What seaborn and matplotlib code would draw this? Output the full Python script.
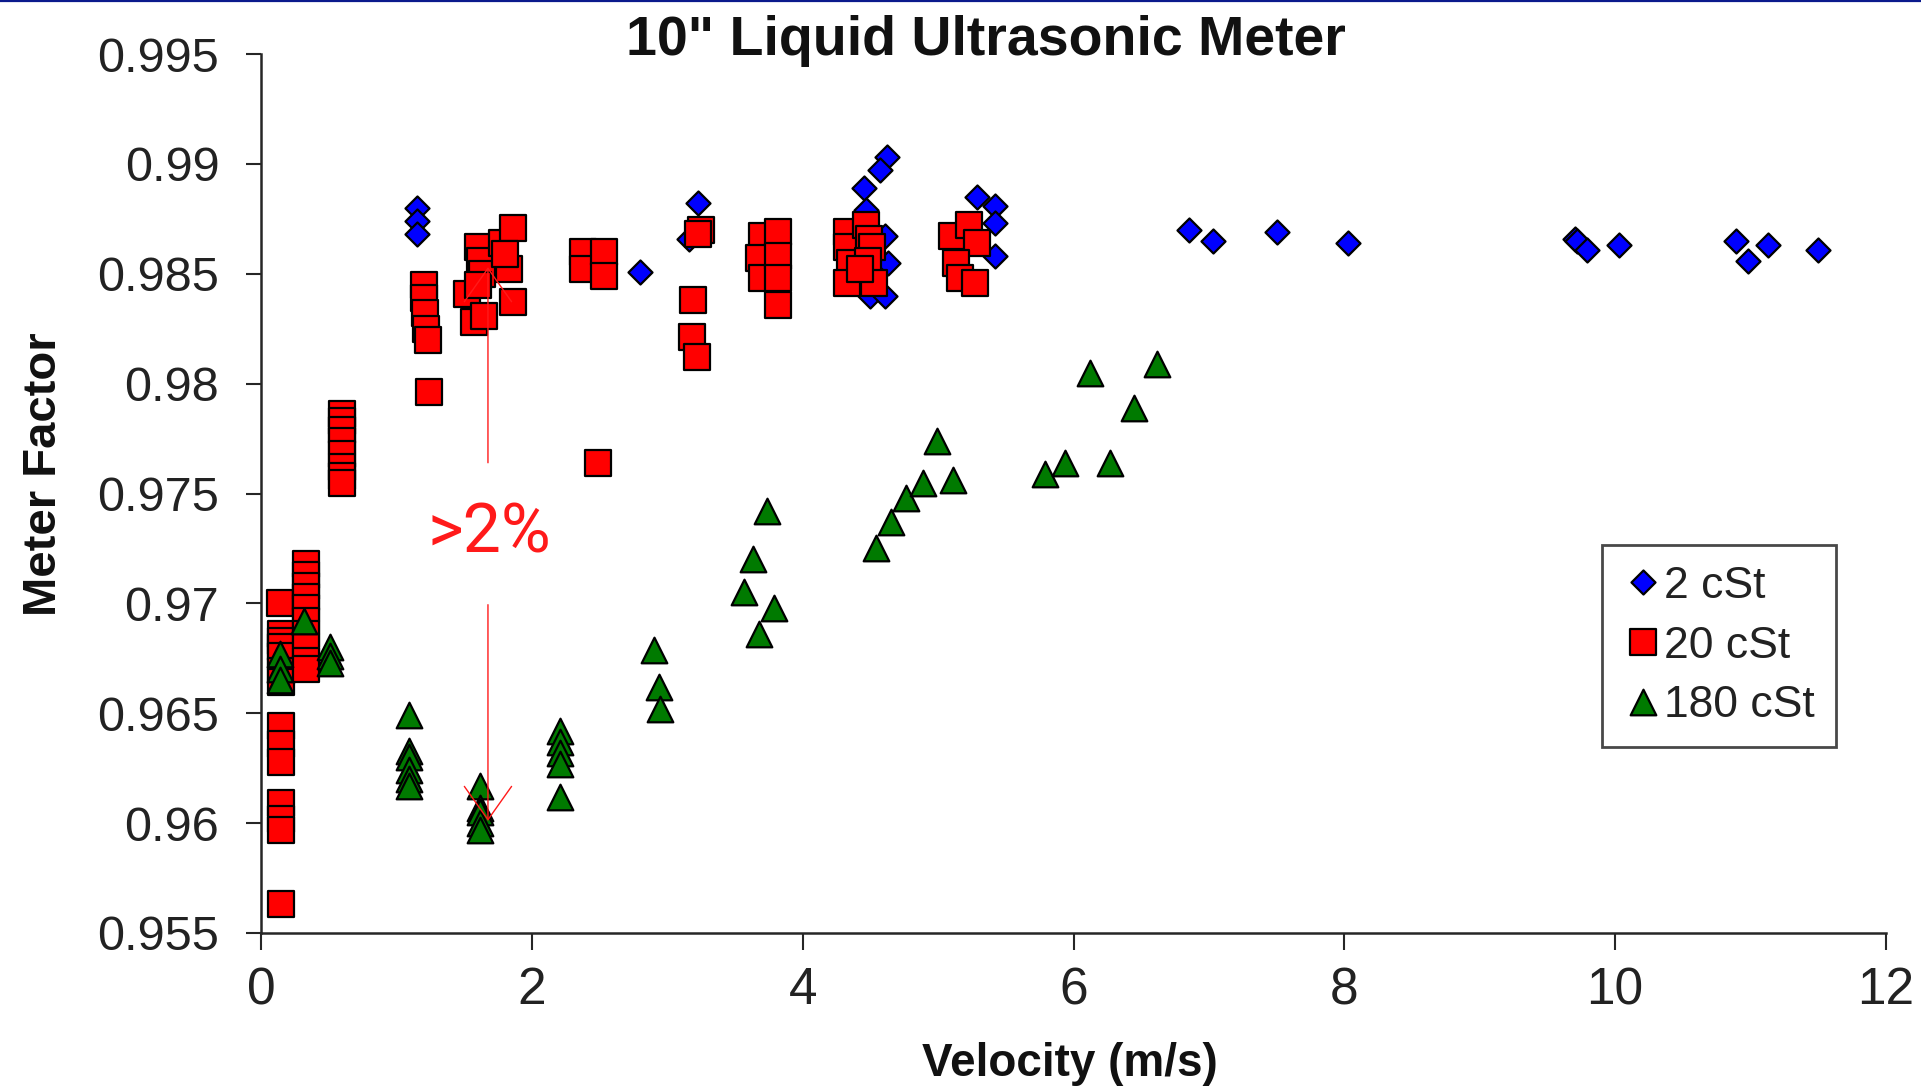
import numpy as np
import pandas as pd
import matplotlib
matplotlib.use("Agg")
import matplotlib.pyplot as plt
from matplotlib.lines import Line2D
import seaborn as sns

# ---- data: velocity (m/s) and meter factor for each oil viscosity ----
vel_2cst = [1.15, 1.15, 1.15, 2.80, 3.23, 3.16, 4.62, 4.57, 4.45, 4.47,
            4.61, 4.63, 4.50, 4.61, 5.29, 5.42, 5.42, 5.42, 6.85, 7.03,
            7.50, 8.03, 9.70, 9.72, 9.79, 10.03, 10.89, 10.98, 11.13, 11.50]
mf_2cst = [0.9880, 0.9874, 0.9868, 0.9851, 0.9882, 0.9866, 0.9903, 0.9897, 0.9889, 0.9879,
           0.9867, 0.9855, 0.9840, 0.9840, 0.9885, 0.9881, 0.9873, 0.9858, 0.9870, 0.9865,
           0.9869, 0.9864, 0.9866, 0.9865, 0.9861, 0.9863, 0.9865, 0.9856, 0.9863, 0.9861]

vel_20cst = [0.14, 0.15, 0.15, 0.15, 0.15, 0.15, 0.15, 0.15, 0.15, 0.15, 0.15, 0.15, 0.15, 0.15,
             0.33, 0.33, 0.33, 0.33, 0.33, 0.33, 0.33, 0.33, 0.33, 0.33,
             0.60, 0.60, 0.60, 0.60, 0.60, 0.60, 0.60, 0.60,
             1.20, 1.20, 1.21, 1.22, 1.23, 1.24,
             1.52, 1.57, 1.60, 1.62, 1.63, 1.65, 1.60, 1.78, 1.86, 1.83, 1.86, 1.80,
             2.38, 2.38, 2.53, 2.53, 2.49,
             3.25, 3.23, 3.19, 3.18, 3.22,
             3.70, 3.68, 3.70, 3.82, 3.82, 3.82, 3.82,
             4.33, 4.33, 4.35, 4.33, 4.47, 4.49, 4.51, 4.48, 4.53, 4.42,
             5.10, 5.23, 5.29, 5.13, 5.16, 5.27]
mf_20cst = [0.9700, 0.9686, 0.9683, 0.9680, 0.9676, 0.9669, 0.9664, 0.9644, 0.9636, 0.9628, 0.9609, 0.9602, 0.9597, 0.9563,
            0.9718, 0.9713, 0.9708, 0.9703, 0.9698, 0.9692, 0.9686, 0.9680, 0.9674, 0.9670,
            0.9786, 0.9783, 0.9779, 0.9774, 0.9768, 0.9762, 0.9758, 0.9755,
            0.9845, 0.9839, 0.9832, 0.9825, 0.9820, 0.9796,
            0.9841, 0.9828, 0.9862, 0.9856, 0.9850, 0.9831, 0.9845, 0.9864, 0.9871, 0.9852, 0.9837, 0.9859,
            0.9860, 0.9852, 0.9860, 0.9849, 0.9764,
            0.9870, 0.9868, 0.9838, 0.9821, 0.9812,
            0.9867, 0.9857, 0.9848, 0.9869, 0.9858, 0.9848, 0.9836,
            0.9869, 0.9862, 0.9855, 0.9846, 0.9872, 0.9866, 0.9862, 0.9856, 0.9846, 0.9852,
            0.9867, 0.9872, 0.9864, 0.9855, 0.9848, 0.9846]

vel_180cst = [0.14, 0.14, 0.14, 0.32, 0.51, 0.51, 0.51,
              1.09, 1.09, 1.09, 1.09, 1.09, 1.09,
              1.62, 1.62, 1.62, 1.62, 1.62,
              2.21, 2.21, 2.21, 2.21, 2.21,
              2.90, 2.94, 2.95,
              3.74, 3.63, 3.57, 3.79, 3.68,
              4.54, 4.65, 4.76, 4.89, 5.11, 4.99,
              5.79, 5.94, 6.27, 6.12, 6.45, 6.62]
mf_180cst = [0.9677, 0.9670, 0.9665, 0.9692, 0.9680, 0.9676, 0.9673,
             0.9649, 0.9633, 0.9630, 0.9624, 0.9620, 0.9617,
             0.9617, 0.9607, 0.9605, 0.9600, 0.9597,
             0.9642, 0.9637, 0.9632, 0.9627, 0.9612,
             0.9679, 0.9662, 0.9652,
             0.9742, 0.9720, 0.9705, 0.9698, 0.9686,
             0.9725, 0.9737, 0.9748, 0.9755, 0.9756, 0.9774,
             0.9759, 0.9764, 0.9764, 0.9805, 0.9789, 0.9809]

series_names = ["2 cSt", "20 cSt", "180 cSt"]
x_ticks = [0, 2, 4, 6, 8, 10, 12]
y_ticks = [0.955, 0.96, 0.965, 0.97, 0.975, 0.98, 0.985, 0.99, 0.995]
y_tick_labels = ["0.955", "0.96", "0.965", "0.97", "0.975", "0.98", "0.985", "0.99", "0.995"]

# spread band annotation (velocity, upper MF, lower MF)
band_x = 1.676
band_top = 0.9853
band_bottom = 0.9601

df = pd.concat([
    pd.DataFrame({"Velocity": vel_2cst, "MF": mf_2cst, "Fluid": series_names[0]}),
    pd.DataFrame({"Velocity": vel_20cst, "MF": mf_20cst, "Fluid": series_names[1]}),
    pd.DataFrame({"Velocity": vel_180cst, "MF": mf_180cst, "Fluid": series_names[2]}),
], ignore_index=True)

styles = {
    "2 cSt": dict(marker="D", color="#0000ff", s=150),
    "20 cSt": dict(marker="s", color="#ff0000", s=340),
    "180 cSt": dict(marker="^", color="#007a00", s=340),
}

sns.set_style("white")
plt.rcParams["font.family"] = ["Liberation Sans", "DejaVu Sans"]

fig = plt.figure(figsize=(19.21, 10.88), dpi=100)
ax = fig.add_axes([261 / 1921, 1 - 933 / 1088, (1886 - 261) / 1921, (933 - 54) / 1088])

for name in series_names:
    st = styles[name]
    sns.scatterplot(data=df[df["Fluid"] == name], x="Velocity", y="MF",
                    marker=st["marker"], color=st["color"], s=st["s"],
                    edgecolor="black", linewidth=1.6, label=name, ax=ax,
                    zorder=3)

ax.set_xlim(0, 12)
ax.set_ylim(0.955, 0.995)
ax.set_xticks(x_ticks)
ax.set_xticklabels([str(t) for t in x_ticks])
ax.set_yticks(y_ticks)
ax.set_yticklabels(y_tick_labels)

for side in ["top", "right"]:
    ax.spines[side].set_visible(False)
for side in ["left", "bottom"]:
    ax.spines[side].set_color("#262626")
    ax.spines[side].set_linewidth(1.8)

ax.tick_params(axis="y", direction="out", length=11, width=1.5, color="#262626",
               labelsize=35, pad=19, labelcolor="#222222", left=True)
ax.tick_params(axis="x", direction="out", length=12, width=1.5, color="#262626",
               labelsize=37, pad=12, labelcolor="#222222", bottom=True)

ax.set_xlabel("")
ax.set_ylabel("")
fig.text(1070 / 1921, 1 - 1076 / 1088, "Velocity (m/s)", ha="center", va="baseline",
         fontsize=33, fontweight="bold", color="#111111")
fig.text(44 / 1921, 1 - 474 / 1088, "Meter Factor", ha="center", va="center",
         rotation=90, fontsize=34, fontweight="bold", color="#111111")
fig.text(986 / 1921, 1 - 55 / 1088, "10\" Liquid Ultrasonic Meter", ha="center",
         va="baseline", fontsize=40, fontweight="bold", color="#111111")

# >2% spread annotation with arrows up and down
red = "#ff1a1a"
arrow_style = "->,head_length=24,head_width=17"
ax.annotate("", xy=(band_x, band_top), xytext=(band_x, 0.9764),
            arrowprops=dict(arrowstyle=arrow_style, color=red, lw=1.0,
                            shrinkA=0, shrinkB=0, mutation_scale=1), zorder=5)
ax.annotate("", xy=(band_x, band_bottom), xytext=(band_x, 0.96994),
            arrowprops=dict(arrowstyle=arrow_style, color=red, lw=1.0,
                            shrinkA=0, shrinkB=0, mutation_scale=1), zorder=5)
ax.text(1.684, 0.97233, ">2%", ha="center", va="baseline", color=red,
        fontsize=49, family=["Roboto", "DejaVu Sans"], zorder=5)

leg = ax.legend(loc="upper left", bbox_to_anchor=(1602 / 1921, 1 - 545 / 1088),
                bbox_transform=fig.transFigure, fontsize=32, frameon=True,
                fancybox=False, edgecolor="#1a1a1a", borderpad=0.47,
                handlelength=0.91, handletextpad=0.02, labelspacing=0.42,
                scatteryoffsets=[0.5], borderaxespad=0)
leg.get_frame().set_linewidth(2.0)
for t in leg.get_texts():
    t.set_color("#222222")

# thin navy rule along the top edge
fig.add_artist(Line2D([0, 1], [1 - 1 / 1088, 1 - 1 / 1088], transform=fig.transFigure,
                      color="#0b1a8c", lw=1.6))

fig.savefig("out.png", dpi=100, facecolor="white")
